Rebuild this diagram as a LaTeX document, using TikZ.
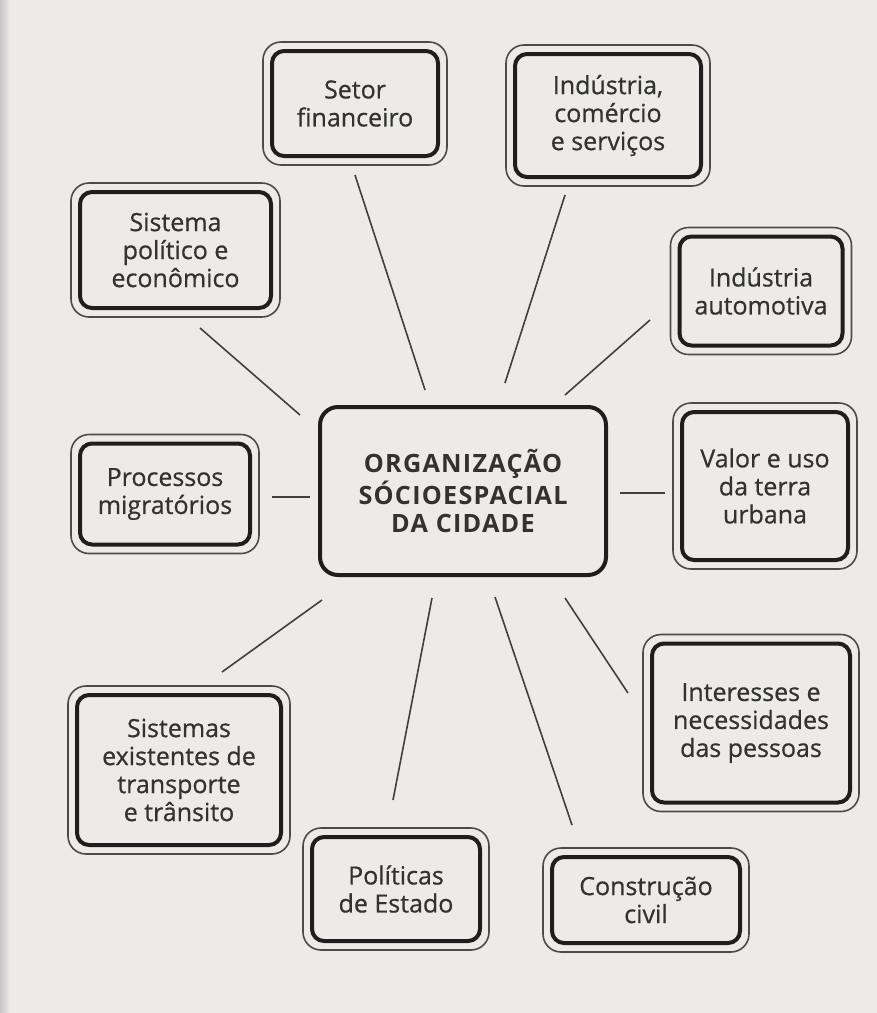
\documentclass[tikz,border=0pt]{standalone}
\usepackage{fontspec}
\setmainfont[FakeBold=0.6]{Open Sans}
\newfontfamily\ctrfont[LetterSpace=5]{Open Sans}
\definecolor{paper}{RGB}{236,235,232}
\definecolor{ink}{RGB}{30,30,30}
\definecolor{txt}{RGB}{50,50,50}
\tikzset{
  box/.style={draw=ink, line width=2pt, rounded corners=6pt, align=center,
    text=txt, inner sep=0pt, font=\fontsize{12.5}{14}\selectfont},
  outerline/.style={draw=ink!80, line width=0.8pt, rounded corners=9pt},
  centerbox/.style={draw=ink, line width=2pt, rounded corners=9pt, align=center,
    text=txt, inner sep=0pt, font=\ctrfont\bfseries\fontsize{12.6}{14.2}\selectfont},
  link/.style={draw=ink!85, line width=0.8pt}
}
\begin{document}
\begin{tikzpicture}[x=0.5pt,y=-0.5pt]
\fill[paper] (0,0) rectangle (877,1013);
\useasboundingbox (0,0) rectangle (877,1013);
\shade[left color=black!22, right color=paper] (0,0) rectangle (10,1013);

\node[centerbox, minimum width=143pt, minimum height=84pt] (ctr) at (463,491)
  {ORGANIZAÇÃO\\SÓCIOESPACIAL\\DA CIDADE};

\node[box, minimum width=83pt, minimum height=52.5pt] (s1) at (355,103.5) {Setor\\financeiro};
\node[box, minimum width=93pt, minimum height=61.5pt] (s2) at (608,115.5) {Indústria,\\comércio\\e serviços};
\node[box, minimum width=95.5pt, minimum height=58pt] (s3) at (175.5,250) {Sistema\\político e\\econômico};
\node[box, minimum width=81.5pt, minimum height=54.5pt] (s4) at (761,291) {Indústria\\automotiva};
\node[box, minimum width=85pt, minimum height=50.5pt] (s5) at (165,494) {Processos\\migratórios};
\node[box, minimum width=83pt, minimum height=74pt] (s6) at (765,486) {Valor e uso\\da terra\\urbana};
\node[box, minimum width=99pt, minimum height=79.5pt] (s7) at (751,723) {Interesses e\\necessidades\\das pessoas};
\node[box, minimum width=102pt, minimum height=75pt] (s8) at (179,770) {Sistemas\\existentes de\\transporte\\e trânsito};
\node[box, minimum width=84pt, minimum height=52pt] (s9) at (396,889) {Políticas\\de Estado};
\node[box, minimum width=94pt, minimum height=43pt] (s10) at (646,900) {Construção\\civil};

\foreach \n in {s1,s2,s3,s4,s5,s6,s7,s8,s9,s10}
  \draw[outerline] ([shift={(-3.5pt,3.5pt)}]\n.north west) rectangle ([shift={(3.5pt,-3.5pt)}]\n.south east);

% free ends of the connectors
\coordinate (a1) at (355,175); \coordinate (b1) at (425,390);
\coordinate (a2) at (565,195); \coordinate (b2) at (505,383);
\coordinate (a3) at (200,328); \coordinate (b3) at (300,415);
\coordinate (a4) at (650,320); \coordinate (b4) at (565,395);
\coordinate (a5) at (272,497); \coordinate (b5) at (310,497);
\coordinate (a6) at (665,493); \coordinate (b6) at (620,493);
\coordinate (a7) at (222,672); \coordinate (b7) at (322,600);
\coordinate (a8) at (393,800); \coordinate (b8) at (432,598);
\coordinate (a9) at (572,825); \coordinate (b9) at (495,597);
\coordinate (a10) at (628,693); \coordinate (b10) at (565,598);
\foreach \i in {1,...,10}
  \draw[link] (a\i) -- (b\i);
\end{tikzpicture}
\end{document}
